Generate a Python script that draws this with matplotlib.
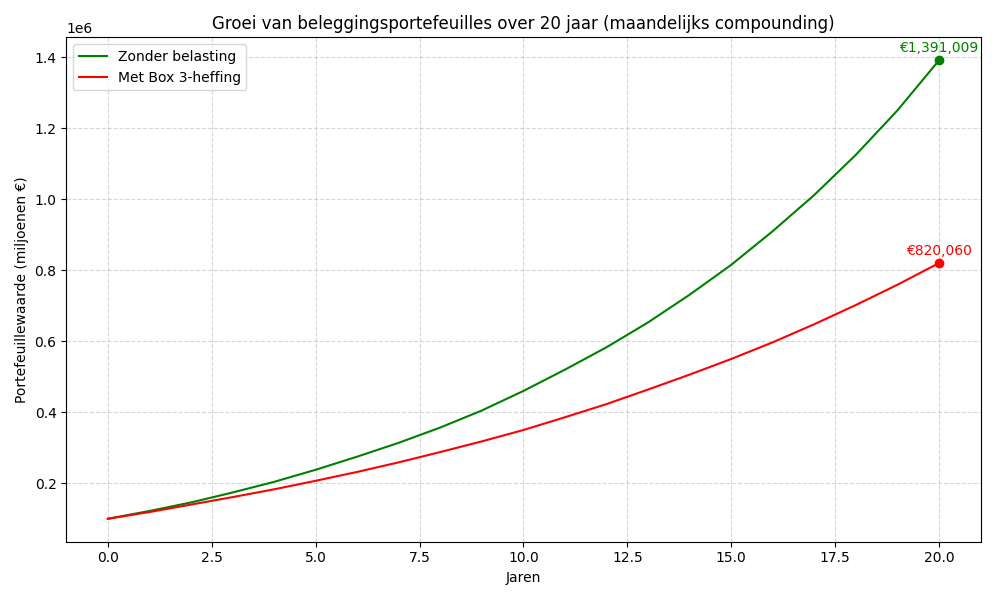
import matplotlib
matplotlib.use("Agg")
import matplotlib.pyplot as plt

years = list(range(0, 21))
# values (euro)
no_tax = [100000, 122000, 146000, 174000, 204000, 238000, 275000, 314000, 357000, 405000,
          460000, 520000, 583000, 653000, 731000, 815000, 910000, 1012000, 1125000, 1250000, 1391009]
box3 = [100000, 119000, 140000, 161000, 183000, 207000, 232000, 259000, 288000, 318000,
        350000, 386000, 423000, 464000, 506000, 550000, 597000, 648000, 702000, 759000, 820060]

fig, ax = plt.subplots(figsize=(10, 6), dpi=100)
ax.plot(years, no_tax, color="green", label="Zonder belasting")
ax.plot(years, box3, color="red", label="Met Box 3-heffing")

ax.scatter([years[-1]], [no_tax[-1]], color="green", zorder=3)
ax.scatter([years[-1]], [box3[-1]], color="red", zorder=3)
ax.annotate(f"€{no_tax[-1]:,}", (years[-1], no_tax[-1]), textcoords="offset points",
            xytext=(0, 6), ha="center", color="green")
ax.annotate(f"€{box3[-1]:,}", (years[-1], box3[-1]), textcoords="offset points",
            xytext=(0, 6), ha="center", color="red")

ax.set_title("Groei van beleggingsportefeuilles over 20 jaar (maandelijks compounding)")
ax.set_xlabel("Jaren")
ax.set_ylabel("Portefeuillewaarde (miljoenen €)")
ax.grid(True, linestyle="--", alpha=0.5)
ax.legend(loc="upper left")
plt.tight_layout()
plt.savefig("out.png")
